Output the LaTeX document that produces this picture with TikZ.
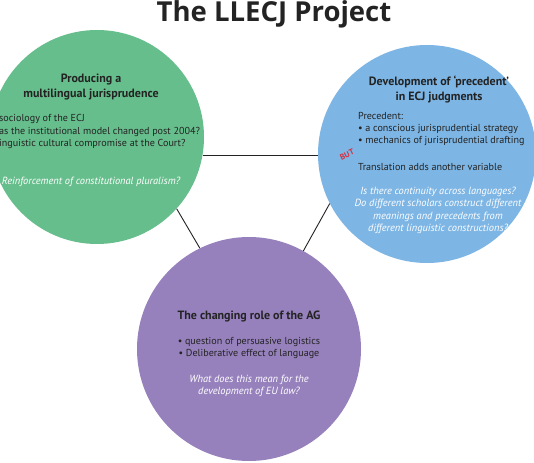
\documentclass[tikz,border=0pt]{standalone}
\usepackage{fontspec}
\setmainfont{PT Sans}
\newfontfamily\titlefont{Open Sans}
\definecolor{cgreen}{RGB}{102,190,140}
\definecolor{cblue}{RGB}{125,181,228}
\definecolor{cpurple}{RGB}{150,129,189}
\definecolor{ctext}{RGB}{35,35,35}
\definecolor{cred}{RGB}{215,45,60}
\begin{document}
\begin{tikzpicture}[x=1pt,y=-1pt,
  bubble/.style={circle,inner sep=0pt,minimum size=#1},
  head/.style={font=\fontsize{12}{14.5}\selectfont\bfseries,text=ctext,align=center,inner sep=0pt},
  body/.style={font=\fontsize{10.1}{12.3}\selectfont,text=ctext,inner sep=0pt},
  ital/.style={font=\fontsize{10.4}{12.4}\selectfont\itshape,text=white,align=center,inner sep=0pt},
  link/.style={draw=ctext,line width=0.9pt}]
\useasboundingbox (0,0) rectangle (534,462);
\clip (0,0) rectangle (534,462);
\fill[white] (0,0) rectangle (534,462);
% circles
\node[bubble=214pt,fill=cgreen] (green) at (97,137) {};
\node[bubble=218pt,fill=cblue] (blue) at (427,154) {};
\node[bubble=224pt,fill=cpurple] (purple) at (249,349) {};
% connectors
\draw[link] (green.-10) -- (green.-10 -| blue.west);
\draw[link] (green.-42) -- (purple.116);
\draw[link] (blue.-153) -- (purple.61);
% title
\node[font=\titlefont\fontsize{27.5}{30}\selectfont\bfseries,text=ctext,inner sep=0pt] (title) at (274,14) {The LLECJ Project};
% green texts
\node[head] (ghead) at (91,87) {Producing a\\multilingual jurisprudence};
\node[body,align=left,anchor=west] (gbody) at (-1,131.5) {sociology of the ECJ\\as the institutional model changed post 2004?\\inguistic cultural compromise at the Court?};
\node[ital] (gital) at (91,182) {Reinforcement of constitutional pluralism?};
% blue texts
\node[head] (bhead) at (439,89.5) {Development of ‘precedent’\\in ECJ judgments};
\node[body,align=left,anchor=west] (bbody) at (358,129) {Precedent:\\• a conscious jurisprudential strategy\\• mechanics of jurisprudential drafting};
\node[font=\fontsize{8}{9}\selectfont\bfseries,text=cred,inner sep=0pt,rotate=25] (but) at (347,154.5) {BUT};
\node[body,anchor=west] (btrans) at (358,167) {Translation adds another variable};
\node[ital] (bital) at (438,210.5) {Is there continuity across languages?\\Do different scholars construct different\\meanings and precedents from\\different linguistic constructions?};
% purple texts
\node[head] (phead) at (249,316) {The changing role of the AG};
\node[body,align=center] (pbody) at (249,348) {• question of persuasive logistics\\• Deliberative effect of language};
\node[ital] (pital) at (249,386) {What does this mean for the\\development of EU law?};
\end{tikzpicture}
\end{document}
